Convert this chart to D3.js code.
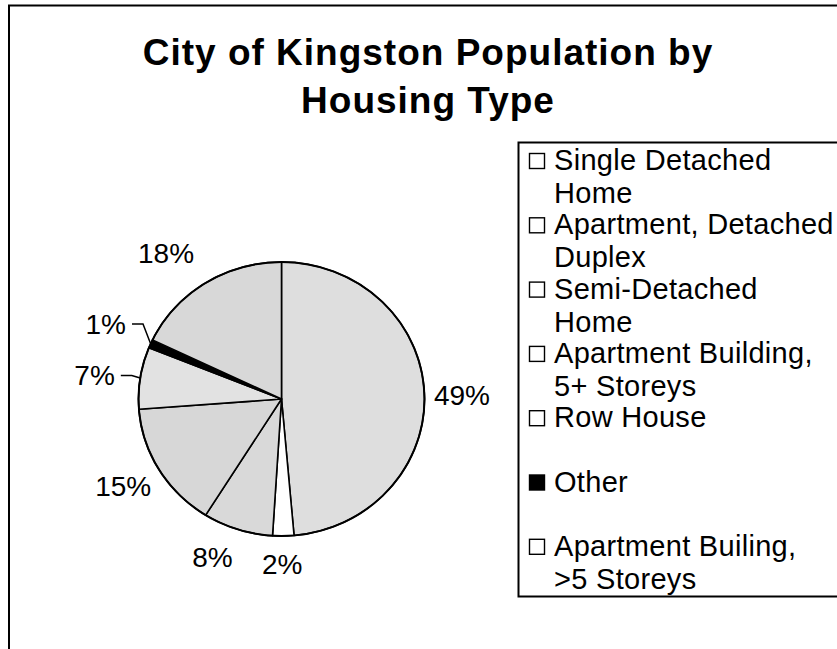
<!DOCTYPE html>
<html>
<head>
<meta charset="utf-8">
<script src="https://cdn.jsdelivr.net/npm/d3@7"></script>
<style>
body { margin: 0; background: #fff; }
svg { display: block; font-family: "Liberation Sans", Arial, sans-serif; }
</style>
</head>
<body>
<div id="chart"></div>
<script>
// data
var categories = ["Single Detached\nHome", "Apartment, Detached\nDuplex", "Semi-Detached\nHome",
    "Apartment Building,\n5+ Storeys", "Row House", "Other", "Apartment Builing,\n>5 Storeys"];
var shares = [48.6, 2.4, 7.9, 14.9, 7.3, 1.0, 17.9];
var sliceColors = ["#dedede", "#ffffff", "#d9d9d9", "#d7d7d7", "#e2e2e2", "#000000", "#d8d8d8"];
var swatchColors = ["#fff", "#fff", "#fff", "#fff", "#fff", "#000", "#fff"];
var titleLines = ["City of Kingston Population by", "Housing Type"];

// label layout: angle nudge (deg) from slice middle, distance of label centre past the rim
var labelNudge = [1.2, 0.5, 5, 1.6, -1.4, 0, -5.2];
var labelGap = [37.5, 28, 35, 39, 45.5, 49, 47];
var withLeader = [false, false, false, false, true, true, false];

window.onload = start;

function start() {
    var width = 837;
    var height = 649;

    var svg = d3.select("#chart")
        .append("svg")
        .attr("width", width)
        .attr("height", height);

    // chart frame (runs off the right and bottom edge)
    svg.append("rect")
        .attr("x", 9).attr("y", 5.5)
        .attr("width", 900).attr("height", 700)
        .attr("fill", "#fff")
        .attr("stroke", "#000")
        .attr("stroke-width", 2);

    // title
    svg.append("text")
        .attr("text-anchor", "middle")
        .attr("font-size", 37)
        .attr("font-weight", "bold")
        .attr("letter-spacing", 1)
        .selectAll("tspan")
        .data(titleLines)
        .enter()
        .append("tspan")
        .attr("x", 428)
        .attr("y", function (d, i) { return 65 + i * 48; })
        .text(function (d) { return d; });

    // pie, drawn as a circle then squashed a little like the original
    var cx = 281.5, cy = 399, rx = 143, ry = 137, r0 = 140;
    var pie = d3.pie().sort(null).value(function (d) { return d; });
    var arcs = pie(shares);
    var arc = d3.arc().innerRadius(0).outerRadius(r0);
    var total = d3.sum(shares);
    var pct = d3.format(".0%");

    var g = svg.append("g")
        .attr("transform", "translate(" + cx + "," + cy + ") scale(" + (rx / r0) + "," + (ry / r0) + ")");

    g.selectAll("path")
        .data(arcs)
        .enter()
        .append("path")
        .attr("d", arc)
        .attr("fill", function (d, i) { return sliceColors[i]; })
        .attr("stroke", "#000")
        .attr("stroke-width", 1.6)
        .attr("stroke-linejoin", "round")
        .attr("vector-effect", "non-scaling-stroke");

    g.append("circle")
        .attr("r", r0)
        .attr("fill", "none")
        .attr("stroke", "#000")
        .attr("stroke-width", 2)
        .attr("vector-effect", "non-scaling-stroke");

    function rimPoint(a, gap) {
        return [cx + (rx + gap) * Math.sin(a), cy - (ry + gap) * Math.cos(a)];
    }

    // data labels
    var labels = svg.append("g")
        .attr("font-size", 28)
        .attr("fill", "#000");

    arcs.forEach(function (d, i) {
        var mid = (d.startAngle + d.endAngle) / 2;
        var a = mid + labelNudge[i] * Math.PI / 180;
        var p = rimPoint(a, labelGap[i]);
        var t = labels.append("text")
            .attr("x", p[0])
            .attr("y", p[1])
            .attr("dy", "0.35em")
            .attr("text-anchor", "middle")
            .text(pct(d.value / total));

        if (withLeader[i]) {
            var w = t.node().getComputedTextLength();
            var x0 = p[0] + w / 2 + 6;
            var edge = rimPoint(mid, 0);
            svg.append("path")
                .attr("d", d3.line()([[x0, p[1]], [x0 + 11, p[1]], edge]))
                .attr("fill", "none")
                .attr("stroke", "#000")
                .attr("stroke-width", 1.5);
        }
    });

    // legend
    var legend = svg.append("g");
    legend.append("rect")
        .attr("x", 518.5).attr("y", 142.5)
        .attr("width", 400).attr("height", 454)
        .attr("fill", "#fff")
        .attr("stroke", "#000")
        .attr("stroke-width", 2);

    var rowStep = 64.3;
    var items = legend.selectAll("g.item")
        .data(categories)
        .enter()
        .append("g")
        .attr("class", "item")
        .attr("transform", function (d, i) { return "translate(0," + (170 + i * rowStep) + ")"; });

    items.append("rect")
        .attr("x", 529.5).attr("y", -16.5)
        .attr("width", 15).attr("height", 15)
        .attr("fill", function (d, i) { return swatchColors[i]; })
        .attr("stroke", "#000")
        .attr("stroke-width", 1.4);

    items.append("text")
        .attr("font-size", 29)
        .attr("letter-spacing", 0.3)
        .selectAll("tspan")
        .data(function (d) { return d.split("\n"); })
        .enter()
        .append("tspan")
        .attr("x", 554)
        .attr("y", function (d, j) { return j * 33; })
        .text(function (d) { return d; });
}
</script>
</body>
</html>
